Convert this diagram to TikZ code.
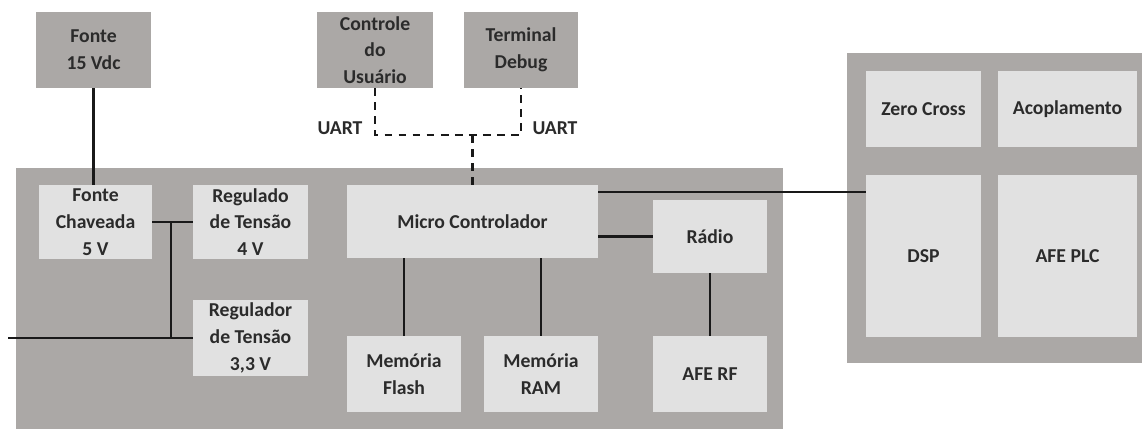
\documentclass[tikz,border=0pt]{standalone}
\usepackage{fontspec}
\setmainfont{Carlito}
\usepackage{xcolor}
\usetikzlibrary{positioning,calc}

\definecolor{boardgray}{HTML}{ABA8A6}
\definecolor{blockgray}{HTML}{E1E1E1}
\definecolor{labelgray}{HTML}{2B2B2B}

\begin{document}
\begin{tikzpicture}[x=0.025cm,y=-0.025cm,
    base/.style={inner sep=0pt,align=center,text=labelgray,
      font=\fontsize{14}{19}\selectfont\bfseries},
    board/.style={fill=boardgray,inner sep=0pt},
    outer/.style={base,fill=boardgray,minimum width=2.875cm,minimum height=1.9cm},
    block/.style={base,fill=blockgray,minimum width=2.875cm,minimum height=1.85cm},
    wire/.style={line width=2pt,black!90},
    uart/.style={wire,dash pattern=on 5.5pt off 4.5pt}]
  \useasboundingbox[fill=white] (0,0) rectangle (1142,428);

  % external sources
  \node[outer] (fonte15) at (93.5,50) {Fonte\\15 Vdc};
  \node[outer,minimum width=2.9cm] (ctrl) at (375,50) {Controle\\do\\Usuário};
  \node[outer,minimum width=2.85cm] (term) at (521,50) {Terminal\\Debug};

  % main board
  \node[board,minimum width=19.175cm,minimum height=6.6cm] (mainboard) at (399.5,300) {};
  \node[block,minimum width=2.825cm] (chav) at (95.5,222) {Fonte\\Chaveada\\5 V};
  \node[block] (reg4) at (250.5,222) {Regulado\\de Tensão\\4 V};
  \node[block,minimum height=1.9cm] (reg33) at (250.5,338) {Regulador\\de Tensão\\3,3 V};
  \node[block,minimum width=6.275cm,minimum height=1.825cm] (micro) at (472.5,221.5) {Micro Controlador};
  \node[block,minimum width=2.85cm,minimum height=1.825cm] (radio) at (710,236.5) {Rádio};
  \node[block,minimum width=2.85cm,minimum height=1.9cm] (flash) at (404,374) {Memória\\Flash};
  \node[block,minimum width=2.85cm,minimum height=1.9cm] (ram) at (541,374) {Memória\\RAM};
  \node[block,minimum width=2.85cm,minimum height=1.9cm] (afrf) at (710,374) {AFE RF};

  % PLC board
  \node[board,minimum width=7.5cm,minimum height=7.75cm] (plcboard) at (997,208) {};
  \node[block,minimum height=1.9cm] (zero) at (923.5,109) {Zero Cross};
  \node[block,minimum width=3.475cm,minimum height=1.9cm] (acop) at (1067.5,109) {Acoplamento};
  \node[block,minimum height=4.05cm] (dsp) at (923.5,256) {DSP};
  \node[block,minimum width=3.475cm,minimum height=4.05cm] (afeplc) at (1067.5,256) {AFE PLC};

  % power
  \draw[wire] (fonte15.south) -- (fonte15.south |- chav.north);
  \draw[wire] (chav.east) -- (reg4.west);
  \coordinate (vbus) at (171,222);
  \coordinate (vin) at (8,338);
  \draw[wire] (vbus) -- (vbus |- reg33.west);
  \draw[wire] (vin) -- (reg33.west);

  % serial ports
  \coordinate (uartbus) at (472.5,135);
  \draw[uart] (ctrl.south) |- (uartbus) -| (term.south);
  \draw[uart] (uartbus) -- (micro.north);
  \node[base] (uartl) at (340,128) {UART};
  \node[base] (uartr) at (555,128) {UART};

  % micro links
  \draw[wire] (micro.south -| flash.north) -- (flash.north);
  \draw[wire] (micro.south -| ram.north) -- (ram.north);
  \draw[wire] (radio.west -| micro.east) -- (radio.west);
  \draw[wire] (radio.south) -- (afrf.north);
  \coordinate (mcdsp) at (598,192);
  \draw[wire] (mcdsp) -- (mcdsp -| dsp.west);
\end{tikzpicture}
\end{document}
